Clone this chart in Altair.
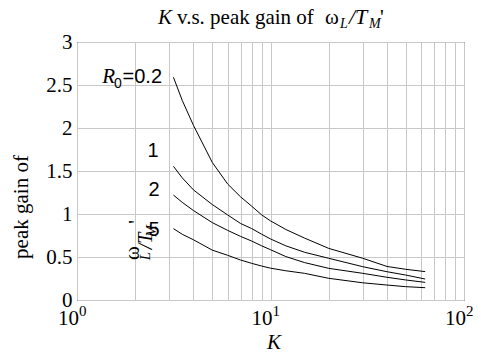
import altair as alt
import pandas as pd

# ---- data ----
K = [3.15, 3.5, 4, 5, 6, 7, 8, 9, 10, 12, 15, 20, 30, 40, 50, 63]
g_02 = [2.59, 2.32, 2.03, 1.60, 1.35, 1.20, 1.09, 0.99, 0.92, 0.82, 0.72, 0.60, 0.485, 0.39, 0.357, 0.33]
g_1 = [1.555, 1.42, 1.28, 1.11, 0.99, 0.89, 0.83, 0.765, 0.71, 0.63, 0.555, 0.485, 0.387, 0.329, 0.29, 0.244]
g_2 = [1.22, 1.135, 1.04, 0.90, 0.81, 0.74, 0.685, 0.63, 0.585, 0.505, 0.435, 0.368, 0.31, 0.264, 0.233, 0.205]
g_5 = [0.83, 0.764, 0.70, 0.58, 0.52, 0.465, 0.426, 0.395, 0.37, 0.34, 0.31, 0.252, 0.20, 0.174, 0.155, 0.143]
series_names = ["0.2", "1", "2", "5"]

label_text = ["1", "2", "5"]
label_K = [2.47, 2.50, 2.50]
label_v = [1.733, 1.279, 0.814]

tick_K = [1, 10, 100]
tick_exp = ["0", "1", "2"]
grid_K = [1, 2, 3, 4, 5, 6, 7, 8, 9, 10, 20, 30, 40, 50, 60, 70, 80, 90, 100]
y_ticks = [0, 0.5, 1, 1.5, 2, 2.5, 3]

rows = []
for name, vals in zip(series_names, [g_02, g_1, g_2, g_5]):
    for k, v in zip(K, vals):
        rows.append({"K": k, "gain": v, "R0": name})
df = pd.DataFrame(rows)

SERIF = "Liberation Serif"
SANS = "Liberation Sans"
W, H = 387, 258

xscale = alt.Scale(type="log", domain=[1, 100], nice=False)
yscale = alt.Scale(domain=[0, 3], nice=False, zero=False)
xaxis = alt.Axis(values=grid_K, labels=False, ticks=False, domain=False,
                 grid=True, gridColor="#c8c8c8", gridWidth=1, gridOpacity=1, title=None)
yaxis = alt.Axis(values=y_ticks, format="~g", ticks=False, domain=False,
                 grid=True, gridColor="#c8c8c8", gridWidth=1, gridOpacity=1,
                 labelFont=SERIF, labelFontSize=21, labelColor="black",
                 labelPadding=5, title=None)


def X(field):
    return alt.X(field, type="quantitative", scale=xscale, axis=xaxis, title=None)


def Y(field):
    return alt.Y(field, type="quantitative", scale=yscale, axis=yaxis, title=None)


lines = alt.Chart(df).mark_line(color="black", strokeWidth=1).encode(
    x=X("K"), y=Y("gain"), detail="R0:N",
)

lab_df = pd.DataFrame({"K": label_K, "v": label_v, "t": label_text})
labels = alt.Chart(lab_df).mark_text(font=SANS, fontSize=20, color="black",
                                     align="center", baseline="middle").encode(
    x=X("K"), y=Y("v"), text="t:N",
)

r0_df = pd.DataFrame({"K": [1.571, 1.628, 2.75], "v": [2.593, 2.51, 2.593],
                      "t": ["R", "0", "=0.2"]})
r_main = alt.Chart(r0_df.iloc[[0]]).mark_text(font=SERIF, fontStyle="italic", fontSize=21,
                                             color="black", align="right", baseline="middle").encode(
    x=X("K"), y=Y("v"), text="t:N")
r_sub = alt.Chart(r0_df.iloc[[1]]).mark_text(font=SANS, fontSize=14,
                                            color="black", align="center", baseline="middle").encode(
    x=X("K"), y=Y("v"), text="t:N")
r_eq = alt.Chart(r0_df.iloc[[2]]).mark_text(font=SANS, fontSize=20,
                                           color="black", align="right", baseline="middle").encode(
    x=X("K"), y=Y("v"), text="t:N")

tick_df = pd.DataFrame({"K": tick_K, "e": tick_exp, "b": ["10"] * 3})
tick_base = alt.Chart(tick_df).mark_text(font=SERIF, fontSize=21, color="black",
                                         align="right", baseline="alphabetic", dx=2).encode(
    x=X("K"), y=alt.value(H + 25), text="b:N")
tick_sup = alt.Chart(tick_df).mark_text(font=SERIF, fontSize=15, color="black",
                                        align="left", baseline="alphabetic", dx=2).encode(
    x=X("K"), y=alt.value(H + 16), text="e:N")

dummy = alt.Data(values=[{"a": 1}])


def txt(s, x, y, size, font=SERIF, style="normal", align="left",
        baseline="alphabetic", angle=0):
    kw = dict(text=s, font=font, fontSize=size, fontStyle=style, align=align,
              baseline=baseline, color="black")
    if angle:
        kw["angle"] = angle
    return alt.Chart(dummy).mark_text(**kw).encode(x=alt.value(x), y=alt.value(y))


# title pieces (pixel offsets relative to the plot area)
title_parts = [
    txt("K", 158 - 77, -18, 21, style="italic"),
    txt("v.s. peak gain of", 177 - 77, -18, 21),
    txt("ω", 325 - 77, -18, 21),
    txt("L", 340 - 77, -14, 14, style="italic"),
    txt("/T", 349 - 77, -18, 22, style="italic"),
    txt("M", 369 - 77, -14, 14, style="italic"),
    txt("'", 380 - 77, -18, 21),
]

axis_titles = [
    txt("K", 274 - 77, 349 - 42, 21, style="italic", align="center"),
    txt("peak gain of", 22 - 77, 207 - 42, 21, align="center", baseline="middle", angle=270),
    txt("ω", 133 - 77, 253 - 42, 21, align="center", baseline="middle", angle=270),
    txt("L", 145 - 77, 256 - 42, 15, style="italic", align="center", baseline="middle", angle=270),
    txt("/T", 146 - 77, 241 - 42, 20, style="italic", align="center", baseline="middle", angle=270),
    txt("M", 152 - 77, 231 - 42, 14, style="italic", align="center", baseline="middle", angle=270),
    txt("'", 137 - 77, 222 - 42, 20, align="center", baseline="middle", angle=270),
]

chart = alt.layer(lines, labels, r_main, r_sub, r_eq, tick_base, tick_sup,
                  *title_parts, *axis_titles).properties(
    width=W, height=H,
    autosize="none",
    padding={"left": 69, "top": 34, "right": 9, "bottom": 50},
).configure(background="white").configure_view(stroke="black", strokeWidth=1)

chart.save("out.html", embed_options={"renderer": "svg", "actions": False})
